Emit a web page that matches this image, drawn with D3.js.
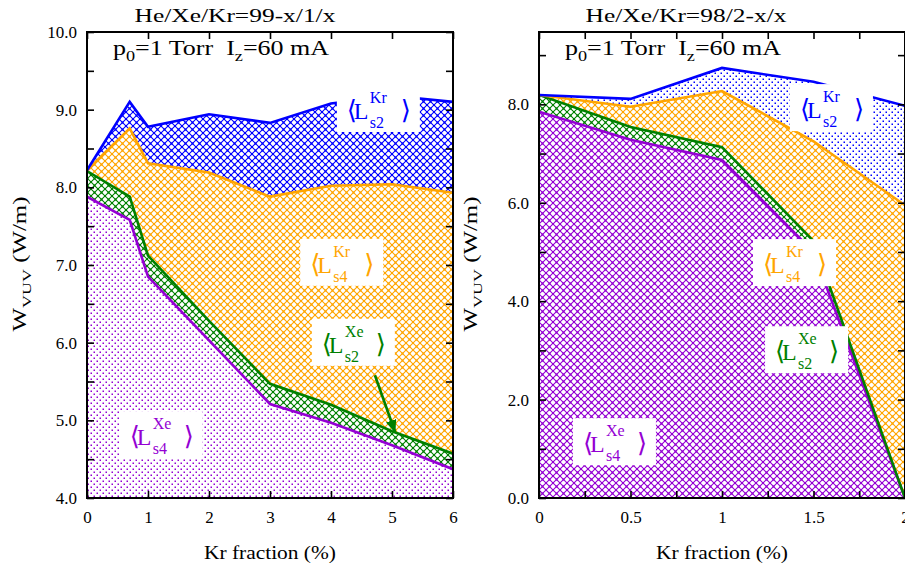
<!DOCTYPE html>
<html><head><meta charset="utf-8">
<script src="https://cdn.jsdelivr.net/npm/d3@7"></script>
<style>
body{margin:0;background:#fff}
svg{display:block}
svg text{font-family:"Liberation Serif","Times New Roman","DejaVu Serif",Times,serif !important;white-space:pre}
</style>
</head><body>
<svg id="c" width="905" height="568" font-family="Liberation Serif, Times New Roman, DejaVu Serif, serif"></svg>
<script>
// ---------- DATA ----------
// Left panel: He/Xe/Kr = 99-x/1/x  (cumulative W_VUV, W/m)
const kr1    = [0, 0.7, 1, 2, 3, 4, 5, 6];
const xeS4_1 = [7.88, 7.58, 6.85, 6.03, 5.21, 4.97, 4.68, 4.37];
const xeS2_1 = [8.21, 7.88, 7.12, 6.28, 5.47, 5.20, 4.86, 4.57];
const krS4_1 = [8.22, 8.76, 8.31, 8.19, 7.88, 8.02, 8.04, 7.93];
const krS2_1 = [8.22, 9.10, 8.78, 8.94, 8.83, 9.08, 9.18, 9.10];
// Right panel: He/Xe/Kr = 98/2-x/x
const kr2    = [0, 0.5, 1, 1.5, 2];
const xeS4_2 = [7.85, 7.28, 6.87, 5.00, 0];
const xeS2_2 = [8.19, 7.54, 7.13, 5.22, 0];
const krS4_2 = [8.19, 7.95, 8.27, 7.25, 5.95];
const krS2_2 = [8.19, 8.11, 8.74, 8.46, 7.97];
// tick values
const yTicks1 = d3.range(4, 10.001, 0.5);
const yLabels1 = [4, 5, 6, 7, 8, 9, 10];
const xTicks1 = [0, 1, 2, 3, 4, 5, 6];
const yTicks2 = d3.range(0, 9.001, 1);
const yLabels2 = [0, 2, 4, 6, 8];
const xTicks2 = d3.range(0, 2.001, 0.25);
const xLabels2 = [0, 0.5, 1, 1.5, 2];
const titles = ["He/Xe/Kr=99-x/1/x", "He/Xe/Kr=98/2-x/x"];

// ---------- STYLE ----------
const FONT = '"Liberation Serif","Times New Roman","DejaVu Serif",serif';
const col = {xeS4:"#9400d3", xeS2:"#008000", krS4:"#ffa500", krS2:"#0000ff"};
const svg = d3.select("#c");
const defs = svg.append("defs");

function crossPattern(id, color){
  const s = 7;
  const p = defs.append("pattern").attr("id", id).attr("patternUnits","userSpaceOnUse")
    .attr("width", s).attr("height", s);
  p.append("rect").attr("width", s).attr("height", s).attr("fill", "#fff");
  p.append("path").attr("d", `M-1,-1L${s+1},${s+1}M${s+1},-1L-1,${s+1}`)
    .attr("stroke", color).attr("stroke-width", 1.1).attr("fill","none");
  p.append("rect").attr("x", s/2-1).attr("y", s/2-1).attr("width", 2).attr("height", 2).attr("fill", color);
  [[-1,-1],[s-1,-1],[-1,s-1],[s-1,s-1]].forEach(c =>
    p.append("rect").attr("x", c[0]).attr("y", c[1]).attr("width", 2).attr("height", 2).attr("fill", color));
}
function dotPattern(id, color){
  const s = 6;
  const p = defs.append("pattern").attr("id", id).attr("patternUnits","userSpaceOnUse")
    .attr("width", s).attr("height", s);
  p.append("rect").attr("width", s).attr("height", s).attr("fill", "#fff");
  p.append("rect").attr("x", 0.5).attr("y", 0.5).attr("width", 1.5).attr("height", 1.5).attr("fill", color);
  p.append("rect").attr("x", 3.5).attr("y", 3.5).attr("width", 1.5).attr("height", 1.5).attr("fill", color);
}
dotPattern("dotP", col.xeS4);
crossPattern("crossP", col.xeS4);
crossPattern("crossG", col.xeS2);
crossPattern("crossO", col.krS4);
crossPattern("crossB", col.krS2);
dotPattern("dotB", col.krS2);

const fmt1 = d3.format(".1f");

// stretch a text horizontally (along its own baseline) to a target width
function fitW(sel, target, pre){
  const bb = sel.node().getBBox();
  if (!bb.width) return;
  const s = target / bb.width;
  const ax = bb.x + (sel.attr("text-anchor") === "middle" ? bb.width / 2 : 0);
  sel.attr("transform", `${pre || ""} translate(${ax},0) scale(${s},1) translate(${-ax},0)`);
}
function T(parent){ return parent.append("text").attr("font-family", FONT); }

function panel(cfg){
  const x = d3.scaleLinear().domain(cfg.xDomain).range([cfg.left, cfg.right]);
  const y = d3.scaleLinear().domain(cfg.yDomain).range([498, 32]);
  const g = svg.append("g");
  const clipId = cfg.id + "clip";
  defs.append("clipPath").attr("id", clipId).append("rect")
    .attr("x", cfg.left).attr("y", 32).attr("width", cfg.right - cfg.left).attr("height", 466);
  const plot = g.append("g").attr("clip-path", `url(#${clipId})`);
  plot.append("rect").attr("x", cfg.left).attr("y", 32).attr("width", cfg.right - cfg.left).attr("height", 466).attr("fill", "#fff");

  const base = cfg.xs.map(() => cfg.yDomain[0]);
  const layers = [base, cfg.s[0], cfg.s[1], cfg.s[2], cfg.s[3]];
  const area = d3.area().x(d => x(d.x)).y0(d => y(d.lo)).y1(d => y(d.hi));
  for (let k = 0; k < 4; k++){
    const pts = cfg.xs.map((xv, i) => ({x: xv, lo: layers[k][i], hi: layers[k+1][i]}));
    plot.append("path").attr("d", area(pts)).attr("fill", `url(#${cfg.fills[k]})`);
  }
  const line = d3.line().x(d => x(d.x)).y(d => y(d.y));
  const lc = [col.xeS4, col.xeS2, col.krS4, col.krS2];
  for (let k = 0; k < 4; k++){
    const pts = cfg.xs.map((xv, i) => ({x: xv, y: cfg.s[k][i]}));
    plot.append("path").attr("d", line(pts)).attr("fill","none")
      .attr("stroke", lc[k]).attr("stroke-width", 2.6).attr("stroke-linejoin","miter");
  }

  if (cfg.arrow){
    const a = cfg.arrow;
    defs.append("marker").attr("id", cfg.id + "arr").attr("markerUnits","userSpaceOnUse")
      .attr("viewBox","0 0 12 10").attr("refX", 11).attr("refY", 5)
      .attr("markerWidth", 13).attr("markerHeight", 11).attr("orient","auto")
      .append("path").attr("d","M0,0L12,5L0,10Z").attr("fill", col.xeS2);
    g.append("line").attr("x1", x(a[0])).attr("y1", y(a[1])).attr("x2", x(a[2])).attr("y2", y(a[3]))
      .attr("stroke", col.xeS2).attr("stroke-width", 2.6).attr("marker-end", `url(#${cfg.id}arr)`);
  }

  cfg.labels.forEach(L => {
    const x0 = x(L.pos[0]), b = y(L.pos[1]);
    g.append("rect").attr("x", x0 - 10).attr("y", b - 34).attr("width", 83).attr("height", 47).attr("fill", "#fff");
    const t = g.append("g").attr("fill", L.color);
    T(t).attr("x", x0).attr("y", b).attr("font-size", 26).text("\u27E8");
    T(t).attr("x", x0 + 7).attr("y", b).attr("font-size", 24).text("L");
    T(t).attr("x", x0 + 23).attr("y", b - 16).attr("font-size", 16).text(L.sup);
    T(t).attr("x", x0 + 23).attr("y", b + 9).attr("font-size", 16).text(L.sub);
    T(t).attr("x", x0 + 54).attr("y", b).attr("font-size", 26).text("\u27E9");
  });

  const tick = 7;
  const axB = g.append("g").attr("transform", "translate(0,498)")
    .call(d3.axisBottom(x).tickValues(cfg.xTicks).tickSize(-tick).tickPadding(13)
      .tickFormat(d => cfg.xLabels.includes(d) ? d3.format("")(d) : ""));
  const axT = g.append("g").attr("transform", "translate(0,32)")
    .call(d3.axisTop(x).tickValues(cfg.xTicks).tickSize(-tick).tickFormat(""));
  const axL = g.append("g").attr("transform", `translate(${cfg.left},0)`)
    .call(d3.axisLeft(y).tickValues(cfg.yTicks).tickSize(-tick).tickPadding(10)
      .tickFormat(d => cfg.yLabels.includes(d) ? fmt1(d) : ""));
  const axR = g.append("g").attr("transform", `translate(${cfg.right},0)`)
    .call(d3.axisRight(y).tickValues(cfg.yTicks).tickSize(-tick).tickFormat(""));
  [axB, axT, axL, axR].forEach(a => {
    a.attr("font-family", FONT);
    a.select(".domain").remove();
    a.selectAll(".tick line").attr("stroke", "#000").attr("stroke-width", 1.6);
    a.selectAll("text").attr("font-family", FONT).attr("font-size", 17).attr("fill", "#000");
  });

  g.append("rect").attr("x", cfg.left).attr("y", 32).attr("width", cfg.right - cfg.left).attr("height", 466)
    .attr("fill", "none").attr("stroke", "#000").attr("stroke-width", 2);

  // annotation
  const an = T(g).attr("x", cfg.left + 26).attr("y", 55).attr("font-size", 20).attr("fill", "#000");
  an.append("tspan").text("p");
  an.append("tspan").attr("font-size", 14).attr("dy", 6).text("0");
  an.append("tspan").attr("dy", -6).text("=1 Torr  I");
  an.append("tspan").attr("font-size", 14).attr("dy", 6).text("z");
  an.append("tspan").attr("dy", -6).text("=60 mA");
  fitW(an, 217);

  // title
  const tt = T(g).attr("x", cfg.titleX).attr("y", 22).attr("text-anchor", "middle")
    .attr("font-size", 18).text(cfg.title);
  fitW(tt, 201);
  // x-axis title
  const xt = T(g).attr("x", (cfg.left + cfg.right) / 2).attr("y", 559).attr("text-anchor", "middle")
    .attr("font-size", 18).text("Kr fraction (%)");
  fitW(xt, 132);
  // y-axis title
  const yt = T(g).attr("x", 0).attr("y", 0).attr("text-anchor", "middle").attr("font-size", 18);
  yt.append("tspan").text("W");
  yt.append("tspan").attr("font-size", 13).attr("dy", 5).text("VUV");
  yt.append("tspan").attr("dy", -5).text(" (W/m)");
  fitW(yt, 135, `translate(${cfg.yTitleX},264) rotate(-90)`);
}

panel({
  id: "L", left: 87, right: 453, xDomain: [0, 6], yDomain: [4, 10],
  xs: kr1, s: [xeS4_1, xeS2_1, krS4_1, krS2_1],
  fills: ["dotP", "crossG", "crossO", "crossB"],
  xTicks: xTicks1, xLabels: xTicks1, yTicks: yTicks1, yLabels: yLabels1,
  title: titles[0], titleX: 235, yTitleX: 26,
  arrow: [4.72, 5.58, 5.05, 4.85],
  labels: [
    {pos: [4.26, 8.88], sup: "Kr", sub: "s2", color: col.krS2},
    {pos: [3.66, 6.90], sup: "Kr", sub: "s4", color: col.krS4},
    {pos: [3.85, 5.87], sup: "Xe", sub: "s2", color: col.xeS2},
    {pos: [0.70, 4.68], sup: "Xe", sub: "s4", color: col.xeS4}
  ]
});
panel({
  id: "R", left: 539, right: 905, xDomain: [0, 2], yDomain: [0, 9.47],
  xs: kr2, s: [xeS4_2, xeS2_2, krS4_2, krS2_2],
  fills: ["crossP", "crossG", "crossO", "dotB"],
  xTicks: xTicks2, xLabels: xLabels2, yTicks: yTicks2, yLabels: yLabels2,
  title: titles[1], titleX: 686, yTitleX: 477,
  labels: [
    {pos: [1.426, 7.72], sup: "Kr", sub: "s2", color: col.krS2},
    {pos: [1.224, 4.57], sup: "Kr", sub: "s4", color: col.krS4},
    {pos: [1.29, 2.80], sup: "Xe", sub: "s2", color: col.xeS2},
    {pos: [0.24, 0.93], sup: "Xe", sub: "s4", color: col.xeS4}
  ]
});
</script>
</body></html>
